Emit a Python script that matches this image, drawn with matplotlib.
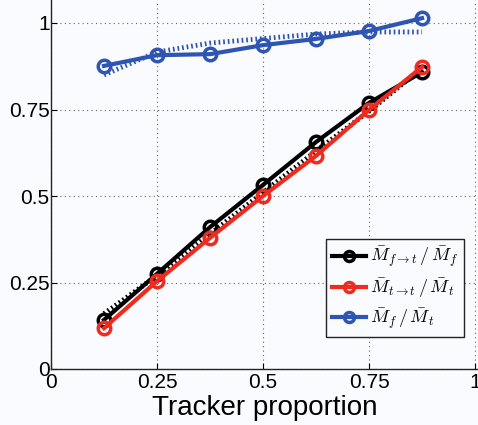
import matplotlib
matplotlib.use("Agg")
import matplotlib.pyplot as plt

plt.rcParams['font.family'] = ['Liberation Sans', 'DejaVu Sans']
plt.rcParams['mathtext.fontset'] = 'cm'

x = [0.125, 0.25, 0.375, 0.5, 0.625, 0.75, 0.875]
black_vals = [0.142, 0.275, 0.410, 0.532, 0.656, 0.769, 0.858]
red_vals = [0.118, 0.254, 0.379, 0.500, 0.616, 0.749, 0.873]
blue_vals = [0.876, 0.907, 0.910, 0.936, 0.954, 0.977, 1.014]
black_ref = [0.160, 0.270, 0.390, 0.510, 0.630, 0.745, 0.870]
blue_ref = [0.850, 0.916, 0.942, 0.955, 0.968, 0.974, 0.974]

labels = [r'$\bar{M}_{f\rightarrow t}\,/\,\bar{M}_f$',
          r'$\bar{M}_{t\rightarrow t}\,/\,\bar{M}_t$',
          r'$\bar{M}_f\,/\,\bar{M}_t$']
xticks = [0, 0.25, 0.5, 0.75, 1]
xticklabels = ['0', '0.25', '0.5', '0.75', '1']
yticks = [0, 0.25, 0.5, 0.75, 1]
yticklabels = ['0', '0.25', '0.5', '0.75', '1']

c_black = '#000000'
c_red = '#f02a1e'
c_blue = '#2f55b2'
bg = '#fafbfe'

fig = plt.figure(figsize=(4.78, 4.25), dpi=100, facecolor=bg)
ax = fig.add_axes([51/478, (425-369)/425, 427/478, 369/425])
ax.set_facecolor(bg)

ax.plot(x, black_ref, color=c_black, lw=3.5, ls=(0, (0.35, 0.6)), zorder=2)
ax.plot(x, blue_ref, color=c_blue, lw=3.5, ls=(0, (0.35, 0.6)), zorder=2)

mk = dict(marker='o', markersize=9, markerfacecolor='none', markeredgewidth=2.5, lw=3)
ax.plot(x, black_vals, color=c_black, label=labels[0], zorder=3, **mk)
ax.plot(x, red_vals, color=c_red, label=labels[1], zorder=4, **mk)
ax.plot(x, blue_vals, color=c_blue, label=labels[2], zorder=3, **mk)

ax.set_xlim(0, 1.007)
ax.set_ylim(0, 369/346)
ax.set_xticks(xticks)
ax.set_xticklabels(xticklabels)
ax.set_yticks(yticks)
ax.set_yticklabels(yticklabels)
ax.tick_params(axis='both', direction='in', labelsize=15, length=4, width=0.8)
ax.tick_params(axis='y', pad=1)
ax.tick_params(axis='x', pad=3)
ax.grid(True, ls=(0, (1, 3)), color='#666666', lw=0.8)
ax.spines['top'].set_visible(False)
ax.spines['right'].set_visible(False)
for s in ['left', 'bottom']:
    ax.spines[s].set_linewidth(1.0)
    ax.spines[s].set_color('#222222')

ax.set_xlabel('Tracker proportion', fontsize=20, labelpad=2)

leg = ax.legend(loc='lower right', bbox_to_anchor=(413/427, (369-337)/369),
                fontsize=13, frameon=True, fancybox=False, handlelength=1.9,
                borderpad=0.3, labelspacing=0.35, handletextpad=0.2, borderaxespad=0,
                markerscale=0.8)
leg.get_frame().set_edgecolor('#222222')
leg.get_frame().set_linewidth(1.0)
leg.get_frame().set_facecolor(bg)
leg.get_frame().set_alpha(1)

fig.savefig('out.png', dpi=100, facecolor=bg)
